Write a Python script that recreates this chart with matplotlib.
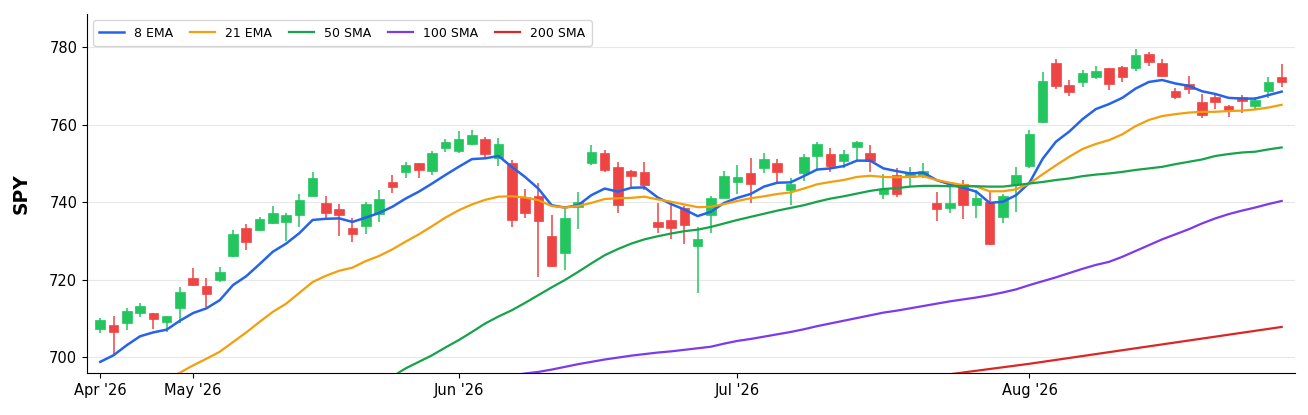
import numpy as np
import pandas as pd
import matplotlib
matplotlib.use("Agg")
import matplotlib.pyplot as plt

# trading days shown (NYSE holidays removed)
holidays = ["2026-05-25", "2026-06-19", "2026-07-03"]
dates = pd.bdate_range("2026-04-22", "2026-08-28")
dates = dates[~dates.isin(pd.to_datetime(holidays))]

opens = [707.2, 708.3, 708.9, 711.3, 711.3, 709.1, 712.7, 720.3, 718.3, 719.8,
         726.1, 733.2, 732.9, 734.5, 735.0, 736.6, 741.6, 739.9, 738.1, 733.3,
         733.8, 736.9, 745.2, 747.8, 750.0, 748.1, 753.9, 753.2, 755.1, 756.3,
         751.4, 750.2, 741.4, 741.6, 731.3, 726.8, 738.8, 750.0, 752.6, 749.1,
         748.1, 747.7, 734.9, 735.4, 738.6, 728.7, 736.6, 741.1, 745.1, 747.4,
         748.7, 750.2, 743.1, 747.6, 752.0, 752.3, 750.7, 754.1, 752.8, 742.0,
         747.1, 746.5, 746.7, 739.7, 738.4, 744.8, 739.2, 740.1, 736.2, 744.4,
         749.4, 760.6, 775.8, 770.2, 770.9, 772.3, 774.5, 774.8, 774.6, 778.2,
         776.0, 768.7, 770.6, 765.9, 767.2, 764.9, 767.0, 764.8, 768.6, 772.3]
highs = [710.0, 710.7, 712.7, 714.0, 711.5, 710.7, 718.1, 723.0, 720.5, 723.3,
         732.8, 734.3, 736.2, 739.0, 737.1, 742.2, 747.8, 741.5, 739.4, 735.8,
         740.1, 743.1, 747.0, 750.4, 750.2, 753.2, 756.3, 758.4, 758.6, 756.7,
         756.6, 750.8, 743.4, 745.0, 736.6, 738.1, 742.5, 754.7, 753.4, 750.4,
         748.2, 750.4, 739.8, 739.2, 739.0, 733.5, 741.5, 748.1, 749.5, 751.4,
         752.6, 751.2, 746.1, 752.3, 755.6, 754.0, 753.4, 755.7, 754.7, 747.2,
         748.7, 749.1, 750.0, 742.5, 743.8, 745.7, 743.1, 742.7, 742.0, 749.1,
         758.6, 773.6, 776.9, 771.6, 774.2, 775.1, 774.7, 775.0, 779.5, 778.8,
         776.9, 769.5, 772.5, 768.0, 767.8, 765.1, 767.6, 767.2, 772.3, 775.7]
lows = [706.3, 700.8, 707.0, 710.3, 707.2, 706.5, 708.7, 718.3, 713.0, 719.4,
        725.9, 727.6, 732.6, 734.3, 730.0, 733.5, 741.5, 735.8, 731.3, 729.6,
        731.7, 734.8, 742.4, 746.2, 746.1, 747.0, 753.0, 752.7, 754.7, 751.7,
        749.4, 733.6, 736.0, 720.7, 723.3, 722.5, 733.0, 749.5, 747.7, 737.2,
        743.9, 743.1, 732.1, 730.6, 729.3, 716.6, 732.1, 741.0, 742.2, 739.8,
        747.4, 745.2, 739.2, 745.5, 748.4, 747.8, 748.7, 750.8, 747.8, 740.7,
        741.3, 743.9, 746.1, 735.1, 737.2, 735.6, 736.0, 728.9, 734.5, 737.5,
        748.7, 760.5, 769.1, 767.4, 769.6, 771.7, 768.9, 770.9, 773.8, 775.1,
        772.2, 766.5, 767.9, 761.8, 763.9, 762.0, 762.9, 764.0, 766.9, 769.6]
closes = [709.5, 706.5, 712.0, 713.3, 709.9, 710.5, 716.7, 718.7, 716.2, 721.9,
          731.9, 729.6, 735.6, 737.2, 736.6, 740.5, 746.1, 737.3, 736.8, 731.9,
          739.4, 740.7, 743.8, 749.5, 748.4, 752.6, 755.4, 756.4, 757.4, 752.3,
          755.1, 735.5, 737.3, 735.1, 723.6, 735.8, 740.1, 752.9, 748.4, 739.2,
          746.7, 744.3, 733.5, 733.2, 734.2, 730.4, 741.0, 746.7, 746.4, 744.8,
          751.2, 747.7, 744.8, 751.7, 754.9, 749.3, 752.3, 755.6, 750.7, 743.4,
          742.0, 747.8, 748.1, 738.1, 739.9, 739.2, 741.0, 729.3, 741.6, 747.0,
          757.7, 771.2, 769.9, 768.5, 773.2, 773.9, 770.4, 772.3, 777.9, 776.2,
          772.6, 767.2, 769.2, 762.6, 765.7, 763.6, 766.1, 766.3, 771.0, 770.9]

ema8 = [698.8, 700.5, 703.1, 705.4, 706.4, 707.1, 709.4, 711.4, 712.6, 714.7,
        718.6, 720.9, 724.0, 727.2, 729.3, 732.0, 735.4, 735.7, 735.8, 734.9,
        736.0, 737.2, 738.8, 740.9, 742.7, 744.8, 747.0, 749.1, 751.1, 751.3,
        751.9, 749.1, 746.5, 743.5, 739.2, 738.6, 739.2, 741.8, 743.5, 742.7,
        743.7, 743.8, 741.2, 739.5, 738.1, 736.4, 737.5, 739.8, 741.1, 742.1,
        744.0, 745.0, 745.1, 746.7, 748.4, 748.7, 749.3, 750.7, 750.7, 748.7,
        748.0, 747.4, 747.6, 745.7, 744.6, 743.7, 742.7, 739.8, 740.1, 741.8,
        745.0, 751.2, 755.6, 758.2, 761.4, 764.0, 765.3, 766.9, 769.3, 771.0,
        771.5, 770.6, 770.0, 768.6, 767.9, 766.9, 766.7, 766.7, 767.6, 768.5]
ema21 = [np.nan] * 5 + [
    694.3, 696.0, 697.9, 699.6, 701.4,
    703.9, 706.4, 709.1, 711.7, 713.8, 716.6, 719.4, 721.0, 722.3, 723.1,
    724.8, 726.1, 727.8, 729.8, 731.7, 733.8, 736.0, 737.9, 739.4, 740.6,
    741.4, 741.5, 741.2, 740.5, 739.0, 738.6, 739.0, 739.8, 740.8, 741.0,
    741.1, 741.4, 740.7, 740.1, 739.4, 738.7, 738.8, 739.5, 740.3, 741.0,
    741.5, 742.1, 742.5, 743.5, 744.6, 745.2, 745.7, 746.5, 746.8, 746.5,
    746.4, 746.5, 746.7, 745.7, 745.0, 744.4, 744.0, 742.8, 742.8, 743.3,
    744.8, 747.2, 749.5, 751.7, 753.7, 755.0, 756.0, 757.5, 759.6, 761.2,
    762.2, 762.7, 763.1, 763.3, 763.3, 763.5, 763.6, 763.9, 764.4, 765.1]
sma50 = [np.nan] * 21 + [
    693.2, 695.0, 697.1, 698.8, 700.5, 702.5, 704.4, 706.5, 708.7,
    710.5, 712.1, 714.0, 716.0, 718.0, 719.9, 722.0, 724.2, 726.3, 727.9,
    729.3, 730.4, 731.2, 731.9, 732.5, 732.9, 733.6, 734.5, 735.4, 736.2,
    737.0, 737.8, 738.5, 739.2, 740.1, 740.9, 741.5, 742.2, 742.9, 743.4,
    743.6, 744.0, 744.2, 744.2, 744.1, 744.1, 744.1, 744.0, 744.0, 744.4,
    744.8, 745.2, 745.7, 746.1, 746.7, 747.1, 747.4, 747.8, 748.3, 748.7,
    749.1, 749.8, 750.4, 751.0, 751.9, 752.4, 752.8, 753.0, 753.6, 754.1]
sma100 = [np.nan] * 31 + [
    695.3, 695.8, 696.2, 696.8, 697.5, 698.2, 698.8, 699.4, 699.9,
    700.4, 700.8, 701.2, 701.5, 701.9, 702.3, 702.7, 703.5, 704.2, 704.7,
    705.3, 705.9, 706.5, 707.2, 708.0, 708.7, 709.4, 710.1, 710.8, 711.5,
    712.0, 712.6, 713.2, 713.8, 714.4, 714.9, 715.4, 716.0, 716.7, 717.5,
    718.6, 719.6, 720.6, 721.7, 722.8, 723.8, 724.6, 725.9, 727.4, 728.9,
    730.4, 731.7, 733.0, 734.5, 735.8, 736.9, 737.8, 738.6, 739.5, 740.3]
sma200 = [np.nan] * 63 + [
    695.15, 695.6, 696.05, 696.5, 696.95, 697.4, 697.85,
    698.3, 698.8, 699.3, 699.8, 700.3, 700.8, 701.3, 701.8, 702.3, 702.8,
    703.3, 703.8, 704.3, 704.8, 705.3, 705.8, 706.3, 706.8, 707.3, 707.8]

up_col = "#22c55e"
down_col = "#ef4444"

fig = plt.figure(figsize=(13.08, 4.15), dpi=100)
ax = fig.add_axes([0.0665, 0.101, 0.9235, 0.865])

x = np.arange(len(dates))
o = np.array(opens)
h = np.array(highs)
l = np.array(lows)
c = np.array(closes)
cols = np.where(c >= o, up_col, down_col)

ax.vlines(x, l, h, colors=cols, linewidth=1.1, zorder=2)
ax.bar(x, np.maximum(np.abs(c - o), 0.3), bottom=np.minimum(o, c), width=0.72,
       color=cols, edgecolor=cols, linewidth=0.5, zorder=3)

ax.plot(x, ema8, color="#2563eb", lw=1.8, label="8 EMA", zorder=4)
ax.plot(x, ema21, color="#f59e0b", lw=1.6, label="21 EMA", zorder=4)
ax.plot(x, sma50, color="#16a34a", lw=1.6, label="50 SMA", zorder=4)
ax.plot(x, sma100, color="#7c3aed", lw=1.6, label="100 SMA", zorder=4)
ax.plot(x, sma200, color="#dc2626", lw=1.6, label="200 SMA", zorder=4)

# month ticks at first trading day of each month
month = dates.to_period("M")
first = [i for i in range(len(dates)) if i == 0 or month[i] != month[i - 1]]
ax.set_xticks(first)
ax.set_xticklabels([dates[i].strftime("%b '%y") for i in first], fontsize=10.5)

ax.set_xlim(-1, 90)
ax.set_ylim(695.9, 788.5)
ax.set_yticks([700, 720, 740, 760, 780])
ax.tick_params(axis="y", labelsize=10.5)
ax.set_ylabel("SPY", fontsize=13.5, fontweight="bold", labelpad=13)

ax.grid(axis="y", color="#e8e8e8", linewidth=0.8, zorder=0)
ax.set_axisbelow(True)
ax.spines["top"].set_visible(False)
ax.spines["right"].set_visible(False)

leg = ax.legend(loc="upper left", ncol=5, fontsize=9, frameon=True,
                borderpad=0.5, handlelength=2.0, columnspacing=1.35,
                bbox_to_anchor=(0.0, 1.0))
leg.get_frame().set_edgecolor("#cccccc")

fig.savefig("out.png", dpi=100)
